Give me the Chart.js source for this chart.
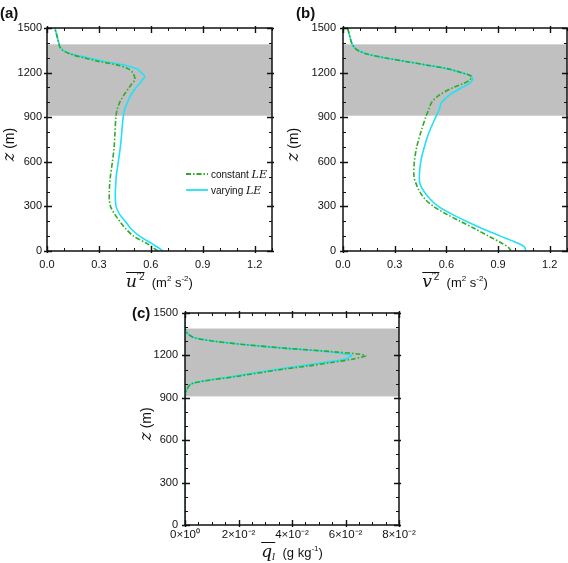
<!DOCTYPE html>
<html>
<head>
<meta charset="utf-8">
<script src="https://cdn.jsdelivr.net/npm/chart.js@4.4.1/dist/chart.umd.min.js"></script>
<style>
  html, body { margin: 0; padding: 0; background: #fff; }
  body { width: 568px; height: 563px; position: relative; overflow: hidden; }
  canvas { position: absolute; }
  #chart-a { left: 0; top: 0; }
  #chart-b { left: 285px; top: 0; }
  #chart-c { left: 120px; top: 295px; }
</style>
</head>
<body>
<canvas id="chart-a" width="285" height="295"></canvas>
<canvas id="chart-b" width="283" height="295"></canvas>
<canvas id="chart-c" width="300" height="268"></canvas>
<script>
/* Vertical profiles: u'^2, v'^2 and q_l, constant vs varying LE */

var Z_LEVELS = [0, 25, 50, 100, 150, 200, 250, 300, 350, 400, 450, 500, 600, 700, 800, 900,
  950, 1000, 1050, 1100, 1125, 1150, 1175, 1200, 1225, 1250, 1275, 1300, 1325, 1350, 1375, 1400, 1450, 1500];

var U_CONST = [0.64, 0.61, 0.578, 0.50, 0.455, 0.42, 0.39, 0.367, 0.36, 0.36, 0.362, 0.366, 0.378, 0.388, 0.393, 0.398,
  0.405, 0.42, 0.445, 0.475, 0.49, 0.508, 0.505, 0.495, 0.47, 0.41, 0.30, 0.21, 0.135, 0.09, 0.073, 0.068, 0.057, 0.045];
var U_VARY = [0.67, 0.64, 0.605, 0.535, 0.485, 0.452, 0.418, 0.399, 0.395, 0.395, 0.397, 0.40, 0.412, 0.424, 0.432, 0.44,
  0.448, 0.465, 0.485, 0.515, 0.535, 0.55, 0.565, 0.545, 0.52, 0.45, 0.33, 0.235, 0.14, 0.095, 0.075, 0.068, 0.057, 0.045];

var V_CONST = [0.975, 0.96, 0.925, 0.845, 0.765, 0.68, 0.597, 0.525, 0.475, 0.445, 0.425, 0.412, 0.414, 0.428, 0.452, 0.48,
  0.497, 0.515, 0.56, 0.64, 0.695, 0.735, 0.745, 0.685, 0.61, 0.49, 0.364, 0.24, 0.14, 0.085, 0.062, 0.05, 0.038, 0.027];
var V_VARY = [1.06, 1.055, 1.02, 0.915, 0.81, 0.715, 0.628, 0.553, 0.505, 0.47, 0.447, 0.443, 0.451, 0.472, 0.50, 0.538,
  0.558, 0.573, 0.62, 0.69, 0.73, 0.752, 0.745, 0.685, 0.61, 0.49, 0.364, 0.24, 0.14, 0.085, 0.062, 0.05, 0.038, 0.027];

var QL_CONST = [0, 0, 0, 0, 0, 0, 0, 0, 0, 0, 0, 0, 0, 0, 0, 0,
  0.0005, 0.0025, 0.019, 0.036, 0.046, 0.055, 0.063, 0.0675, 0.056, 0.038, 0.023, 0.011, 0.0035, 0.0012, 0.0003, 0, 0, 0];
var QL_VARY = [0, 0, 0, 0, 0, 0, 0, 0, 0, 0, 0, 0, 0, 0, 0, 0,
  0.0005, 0.0025, 0.0175, 0.034, 0.043, 0.052, 0.06, 0.0622, 0.054, 0.038, 0.023, 0.011, 0.0035, 0.0012, 0.0003, 0, 0, 0];

var Z_TICKS = [0, 300, 600, 900, 1200, 1500];
var VEL_TICKS = [0, 0.3, 0.6, 0.9, 1.2];
var QL_TICKS = [0, 0.02, 0.04, 0.06, 0.08];
var QL_TICK_LABELS = ['0\u00d710\u2070', '2\u00d710\u207b\u00b2', '4\u00d710\u207b\u00b2', '6\u00d710\u207b\u00b2', '8\u00d710\u207b\u00b2'];
var SERIES_LABELS = ['constant ', 'varying '];
var CLOUD_LAYER = [910, 1390];

var GREEN = '#2faa28';
var CYAN = '#22e0f6';
var SHADE = '#c0c0c0';
var SANS = '"Liberation Sans", Arial, sans-serif';
var SERIF = '"DejaVu Serif", serif';

function toPoints(vals) {
  return vals.map(function (v, i) { return { x: v, y: Z_LEVELS[i] }; });
}

function series(vals, color, dash, label) {
  return {
    label: label,
    data: toPoints(vals),
    showLine: true,
    borderColor: color,
    backgroundColor: color,
    borderWidth: 1.6,
    borderDash: dash,
    pointRadius: 0,
    tension: 0.3,
    fill: false
  };
}

// draws a run of text pieces (font changes, super/subscripts, overline)
function drawRich(ctx, segs, cx, baseline) {
  var total = 0;
  segs.forEach(function (s) {
    ctx.font = s.font;
    s.w = ctx.measureText(s.text).width;
    total += s.w;
  });
  var x = cx - total / 2;
  var oStart = null, oEnd = null;
  ctx.textAlign = 'left';
  ctx.textBaseline = 'alphabetic';
  segs.forEach(function (s) {
    ctx.font = s.font;
    ctx.fillText(s.text, x, baseline + (s.dy || 0));
    if (s.over) {
      if (oStart === null) oStart = x;
      oEnd = x + s.w;
    }
    x += s.w;
  });
  if (oStart !== null) {
    ctx.beginPath();
    ctx.lineWidth = 1;
    ctx.moveTo(oStart, baseline - 14.5);
    ctx.lineTo(oEnd, baseline - 14.5);
    ctx.stroke();
  }
}

function drawRichLeft(ctx, segs, x, baseline) {
  ctx.textAlign = 'left';
  ctx.textBaseline = 'alphabetic';
  segs.forEach(function (s) {
    ctx.font = s.font;
    ctx.fillText(s.text, x, baseline);
    x += ctx.measureText(s.text).width;
  });
}

function minorValues(min, max, step) {
  var out = [];
  var n = Math.round((max - min) / step);
  for (var i = 0; i <= n; i++) out.push(min + i * step);
  return out;
}

var profileFrame = {
  id: 'profileFrame',
  beforeDatasetsDraw: function (chart, args, o) {
    var ctx = chart.ctx, a = chart.chartArea, ys = chart.scales.y;
    var top = ys.getPixelForValue(CLOUD_LAYER[1]);
    var bot = ys.getPixelForValue(CLOUD_LAYER[0]);
    ctx.save();
    ctx.fillStyle = SHADE;
    ctx.fillRect(a.left, top, a.right - a.left, bot - top);
    ctx.restore();
  },
  afterDraw: function (chart, args, o) {
    var ctx = chart.ctx, a = chart.chartArea;
    var xs = chart.scales.x, ys = chart.scales.y;
    ctx.save();
    ctx.strokeStyle = '#111';
    ctx.fillStyle = '#111';
    ctx.lineWidth = 1;

    // tick marks on all four sides
    ctx.beginPath();
    minorValues(xs.min, xs.max, o.xMinor).forEach(function (v) {
      var px = Math.round(xs.getPixelForValue(v)) + 0.5;
      ctx.moveTo(px, a.bottom); ctx.lineTo(px, a.bottom - 3);
      ctx.moveTo(px, a.top); ctx.lineTo(px, a.top + 3);
    });
    minorValues(ys.min, ys.max, 100).forEach(function (v) {
      var py = Math.round(ys.getPixelForValue(v)) + 0.5;
      ctx.moveTo(a.left, py); ctx.lineTo(a.left + 3, py);
      ctx.moveTo(a.right, py); ctx.lineTo(a.right - 3, py);
    });
    ctx.stroke();
    ctx.lineWidth = 1.4;
    ctx.beginPath();
    o.xMajor.forEach(function (v) {
      var px = Math.round(xs.getPixelForValue(v)) + 0.5;
      ctx.moveTo(px, a.bottom + 2); ctx.lineTo(px, a.bottom - 5);
      ctx.moveTo(px, a.top - 2); ctx.lineTo(px, a.top + 5);
    });
    Z_TICKS.forEach(function (v) {
      var py = Math.round(ys.getPixelForValue(v)) + 0.5;
      ctx.moveTo(a.left - 3, py); ctx.lineTo(a.left + 5, py);
      ctx.moveTo(a.right + 2, py); ctx.lineTo(a.right - 5, py);
    });
    ctx.stroke();

    // frame
    ctx.lineWidth = 1.5;
    ctx.strokeRect(a.left, a.top, a.right - a.left, a.bottom - a.top);

    // panel letter
    ctx.font = 'bold 15px ' + SANS;
    ctx.textAlign = 'left';
    ctx.textBaseline = 'middle';
    ctx.fillText(o.letter[0], o.letter[1], o.letter[2]);

    // y title, rotated
    ctx.save();
    ctx.translate(o.yTitleX, (a.top + a.bottom) / 2 + 5);
    ctx.rotate(-Math.PI / 2);
    drawRich(ctx, [
      { text: 'z', font: 'italic 16px ' + SERIF },
      { text: ' (m)', font: '14px ' + SANS }
    ], 0, 5);
    ctx.restore();

    // x title
    drawRich(ctx, o.xTitle, (a.left + a.right) / 2, a.bottom + o.xTitleDy);

    // legend
    if (o.legend) {
      chart.data.datasets.forEach(function (ds, i) {
        var ly = a.top + o.legend.y + i * o.legend.gap;
        var lx = a.left + o.legend.x;
        ctx.save();
        ctx.strokeStyle = ds.borderColor;
        ctx.lineWidth = 1.8;
        ctx.setLineDash(ds.borderDash || []);
        ctx.beginPath();
        ctx.moveTo(lx, ly);
        ctx.lineTo(lx + 22, ly);
        ctx.stroke();
        ctx.restore();
        drawRichLeft(ctx, [
          { text: ds.label, font: '10px ' + SANS },
          { text: 'LE', font: 'italic 11px ' + SERIF }
        ], lx + 25, ly + 4);
      });
    }
    ctx.restore();
  }
};

function makeChart(id, cfg) {
  var canvas = document.getElementById(id);
  return new Chart(canvas, {
    type: 'scatter',
    data: {
      datasets: [
        series(cfg.constVals, GREEN, [5, 2, 1.5, 2], SERIES_LABELS[0]),
        series(cfg.varyVals, CYAN, [], SERIES_LABELS[1])
      ]
    },
    options: {
      responsive: false,
      animation: false,
      events: [],
      layout: { padding: cfg.pad },
      plugins: {
        legend: { display: false },
        tooltip: { enabled: false },
        profileFrame: cfg.frame
      },
      scales: {
        x: {
          type: 'linear',
          min: cfg.xMin,
          max: cfg.xMax,
          grid: { display: false, drawTicks: false },
          border: { display: false },
          afterBuildTicks: function (s) { s.ticks = cfg.xTicks.map(function (v) { return { value: v }; }); },
          afterFit: function (s) { s.height = cfg.xAxisH; s.paddingLeft = 0; s.paddingRight = 0; },
          ticks: {
            padding: cfg.xPad,
            autoSkip: false,
            maxRotation: 0,
            color: '#111',
            font: { family: SANS, size: cfg.xFont },
            callback: cfg.xFmt
          }
        },
        y: {
          type: 'linear',
          min: 0,
          max: 1500,
          grid: { display: false, drawTicks: false },
          border: { display: false },
          afterBuildTicks: function (s) { s.ticks = Z_TICKS.map(function (v) { return { value: v }; }); },
          afterFit: function (s) { s.width = cfg.yAxisW; s.paddingTop = 0; s.paddingBottom = 0; },
          ticks: {
            padding: cfg.yPad,
            color: '#111',
            font: { family: SANS, size: 11 },
            callback: function (v) { return String(v); }
          }
        }
      }
    },
    plugins: [profileFrame]
  });
}

function velTitle(sym) {
  return [
    { text: sym, font: 'italic 17px ' + SERIF, over: true },
    { text: '\u20322', font: '10px ' + SANS, dy: -7, over: true },
    { text: '  (m', font: '13px ' + SANS },
    { text: '2', font: '8px ' + SANS, dy: -6 },
    { text: ' s', font: '13px ' + SANS },
    { text: '-2', font: '8px ' + SANS, dy: -6 },
    { text: ')', font: '13px ' + SANS }
  ];
}

function velFmt(v) { return v.toFixed(1); }

makeChart('chart-a', {
  constVals: U_CONST, varyVals: U_VARY,
  xMin: 0, xMax: 1.3, xTicks: VEL_TICKS, xFmt: velFmt, xFont: 11, xPad: 7,
  pad: { left: 0, top: 28, right: 13, bottom: 0 },
  yAxisW: 47, xAxisH: 44, yPad: 5,
  frame: {
    xMajor: VEL_TICKS, xMinor: 0.1,
    letter: ['(a)', 0, 14], yTitleX: 9,
    xTitle: velTitle('u'), xTitleDy: 36,
    legend: { x: 139, y: 146, gap: 16 }
  }
});

makeChart('chart-b', {
  constVals: V_CONST, varyVals: V_VARY,
  xMin: 0, xMax: 1.3, xTicks: VEL_TICKS, xFmt: velFmt, xFont: 11, xPad: 7,
  pad: { left: 0, top: 28, right: 1, bottom: 0 },
  yAxisW: 58, xAxisH: 44, yPad: 7,
  frame: {
    xMajor: VEL_TICKS, xMinor: 0.1,
    letter: ['(b)', 11, 14], yTitleX: 8,
    xTitle: velTitle('v'), xTitleDy: 36
  }
});

makeChart('chart-c', {
  constVals: QL_CONST, varyVals: QL_VARY,
  xMin: 0, xMax: 0.08, xTicks: QL_TICKS, xFont: 11.5, xPad: 3,
  xFmt: function (v, i) { return QL_TICK_LABELS[i]; },
  pad: { left: 0, top: 18, right: 21, bottom: 0 },
  yAxisW: 65, xAxisH: 38, yPad: 7,
  frame: {
    xMajor: QL_TICKS, xMinor: 0.005,
    letter: ['(c)', 12, 19], yTitleX: 26,
    xTitle: [
      { text: 'q', font: 'italic 17px ' + SERIF, over: true },
      { text: 'l', font: 'italic 10px ' + SERIF, dy: 3, over: true },
      { text: '  (g kg', font: '13px ' + SANS },
      { text: '-1', font: '8px ' + SANS, dy: -6 },
      { text: ')', font: '13px ' + SANS }
    ],
    xTitleDy: 32
  }
});
</script>
</body>
</html>
